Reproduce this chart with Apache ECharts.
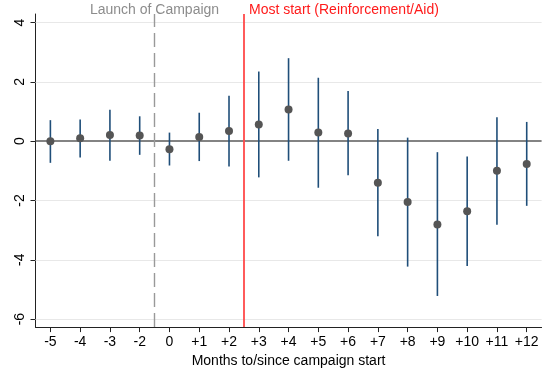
<!DOCTYPE html>
<html>
<head>
<meta charset="utf-8">
<title>Event study</title>
<script src="https://cdn.jsdelivr.net/npm/echarts@6/dist/echarts.min.js"></script>
</head>
<body style="margin:0;background:#fff;">
<div id="main" style="width:550px;height:373px;"></div>
<script type="text/javascript">
// months relative to campaign start (-1 is the omitted month)
var months = ['-5', '-4', '-3', '-2', '0', '+1', '+2', '+3', '+4', '+5', '+6', '+7', '+8', '+9', '+10', '+11', '+12'];
var estimate = [0.00, 0.10, 0.21, 0.19, -0.27, 0.14, 0.34, 0.56, 1.07, 0.29, 0.26, -1.40, -2.05, -2.81, -2.36, -1.00, -0.77];
var ciLow = [-0.73, -0.55, -0.66, -0.46, -0.82, -0.67, -0.85, -1.22, -0.66, -1.57, -1.15, -3.21, -4.23, -5.22, -4.21, -2.82, -2.18];
var ciHigh = [0.71, 0.73, 1.06, 0.84, 0.29, 0.96, 1.53, 2.35, 2.80, 2.14, 1.69, 0.41, 0.12, -0.37, -0.52, 0.81, 0.65];
var yTicks = [-6, -4, -2, 0, 2, 4];
// vertical event lines, in category index units
var launchAt = 3.5;
var mostStartAt = 6.5;

var xIdx = months.map(function (m, i) { return i; });
var gridVals = yTicks.filter(function (v) { return v !== 0; });

var myChart = echarts.init(document.getElementById('main'));
var font = 'Liberation Sans, Arial, Helvetica, sans-serif';

var option = {
    animation: false,
    backgroundColor: '#fff',
    grid: { left: 35.5, right: 8.4, top: 14, bottom: 37.3 },
    xAxis: {
        type: 'value',
        min: -0.5,
        max: months.length - 0.5,
        name: 'Months to/since campaign start',
        nameLocation: 'middle',
        nameGap: 21,
        nameTextStyle: { fontFamily: font, fontSize: 14, color: '#000' },
        axisLine: { onZero: false, lineStyle: { color: '#222', width: 1 } },
        axisTick: { customValues: xIdx, length: 5, lineStyle: { color: '#222' } },
        axisLabel: {
            customValues: xIdx,
            margin: 8,
            fontFamily: font, fontSize: 14, color: '#000',
            formatter: function (v) { return months[Math.round(v)]; }
        },
        splitLine: { show: false }
    },
    yAxis: {
        type: 'value',
        min: -6.27,
        max: 4.29,
        axisLine: { show: true, onZero: false, lineStyle: { color: '#222', width: 1 } },
        axisTick: { show: true, customValues: yTicks, length: 5, lineStyle: { color: '#222' } },
        axisLabel: {
            customValues: yTicks,
            rotate: 90,
            margin: 8,
            fontFamily: font, fontSize: 14, color: '#000'
        },
        splitLine: { show: false }
    },
    graphic: [
        { type: 'text', x: 154.5, y: 3, style: { text: 'Launch of Campaign', fill: '#8c8c8c', font: '14px ' + font, textAlign: 'center' }, z: 10 },
        { type: 'text', x: 249, y: 3, style: { text: 'Most start (Reinforcement/Aid)', fill: '#ff1a1a', font: '14px ' + font, textAlign: 'left' }, z: 10 }
    ],
    series: [
        {
            // reference lines
            type: 'line',
            data: [],
            z: 1,
            markLine: {
                silent: true,
                symbol: 'none',
                label: { show: false },
                data: gridVals.map(function (v) {
                    return { yAxis: v, lineStyle: { color: '#e8e8e8', width: 1, type: 'solid' } };
                }).concat([
                    { yAxis: 0, lineStyle: { color: '#5a5a5a', width: 1.6, type: 'solid' } },
                    { xAxis: launchAt, lineStyle: { color: '#999999', width: 1.4, type: [14, 6] } },
                    { xAxis: mostStartAt, lineStyle: { color: '#ff4a4a', width: 1.8, type: 'solid' } }
                ])
            }
        },
        {
            // confidence intervals
            type: 'custom',
            z: 10,
            data: xIdx.map(function (i) { return [i, ciLow[i], ciHigh[i]]; }),
            renderItem: function (params, api) {
                var lo = api.coord([api.value(0), api.value(1)]);
                var hi = api.coord([api.value(0), api.value(2)]);
                return {
                    type: 'line',
                    shape: { x1: lo[0], y1: lo[1], x2: hi[0], y2: hi[1] },
                    style: { stroke: '#1f4e79', lineWidth: 1.6 }
                };
            }
        },
        {
            type: 'scatter',
            z: 11,
            symbol: 'circle',
            symbolSize: 8,
            itemStyle: { color: '#555555', opacity: 1 },
            data: xIdx.map(function (i) { return [i, estimate[i]]; })
        }
    ]
};

myChart.setOption(option);
</script>
</body>
</html>
